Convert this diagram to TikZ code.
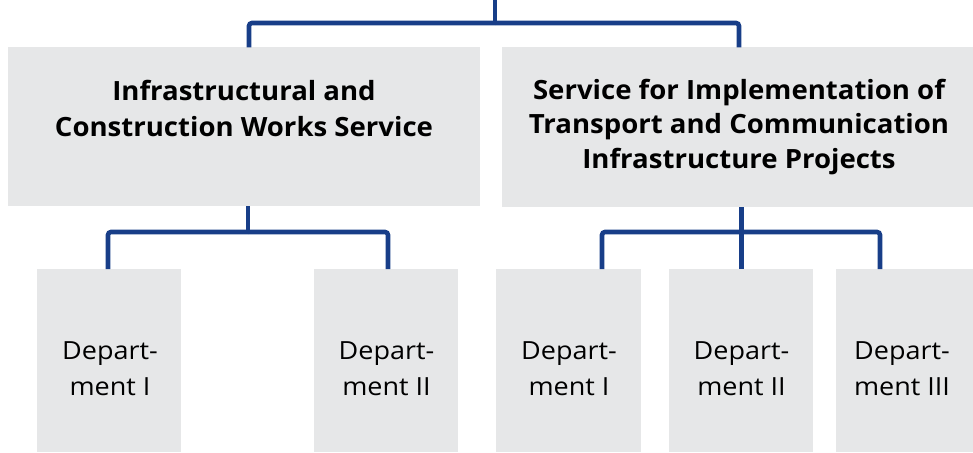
\documentclass[tikz,border=0pt]{standalone}
\usepackage{fontspec}
\setmainfont{Open Sans}
\newfontfamily\headfont[FakeStretch=1.04]{Open Sans}
\newfontfamily\deptfont[FakeStretch=1.08]{Open Sans}
\definecolor{boxgrey}{RGB}{230,231,232}
\definecolor{linkblue}{RGB}{24,62,136}
\begin{document}
\begin{tikzpicture}[x=1pt,y=-1pt,
  box/.style={fill=boxgrey, draw=none, inner sep=0pt, outer sep=0pt},
  link/.style={draw=linkblue, line width=4.6pt, rounded corners=3pt},
  head/.style={anchor=base, inner sep=0pt, font=\headfont\fontsize{26.5}{30}\selectfont\bfseries},
  dept/.style={anchor=base, inner sep=0pt, font=\deptfont\fontsize{25}{28}\selectfont}]
\useasboundingbox (0,0) rectangle (973,452);
% service boxes
\node[box, minimum width=472pt, minimum height=159pt] (s1) at (244,126.5) {};
\node[box, minimum width=471pt, minimum height=160pt] (s2) at (737.5,127) {};
% department boxes
\node[box, minimum width=144pt, minimum height=183pt] (d1) at (109,360.5) {};
\node[box, minimum width=144pt, minimum height=183pt] (d2) at (386,360.5) {};
\node[box, minimum width=145pt, minimum height=183pt] (d3) at (568.5,360.5) {};
\node[box, minimum width=144pt, minimum height=183pt] (d4) at (741,360.5) {};
\node[box, minimum width=144pt, minimum height=183pt] (d5) at (908,360.5) {};
% texts
\node[head] (s1a) at (244,100) {Infrastructural and};
\node[head] (s1b) at (244,136) {Construction Works Service};
\node[head] (s2a) at (739,99.5) {Service for Implementation of};
\node[head] (s2b) at (739,133.5) {Transport and Communication};
\node[head] (s2c) at (739,168) {Infrastructure Projects};
\node[dept] (d1a) at (110,359) {Depart-};
\node[dept] (d1b) at (110,395) {ment I};
\node[dept] (d2a) at (386.5,359) {Depart-};
\node[dept] (d2b) at (386.5,395) {ment II};
\node[dept] (d3a) at (569,359) {Depart-};
\node[dept] (d3b) at (569,395) {ment I};
\node[dept] (d4a) at (741.5,359) {Depart-};
\node[dept] (d4b) at (741.5,395) {ment II};
\node[dept] (d5a) at (902,359) {Depart-};
\node[dept] (d5b) at (902,395) {ment III};
% junction coordinates
\coordinate (top) at (495,0);
\coordinate (j0) at (495,23);
\coordinate (j1) at (248,232);
\coordinate (j2) at (741.5,232);
% connectors
\draw[link] (top) -- (j0);
\draw[link] (j0) -| (249,47.5);
\draw[link] (j0) -| (739,47.5);
\draw[link] (248,206) -- (j1);
\draw[link] (j1) -| (108,269);
\draw[link] (j1) -| (388,269);
\draw[link] (741.5,207) -- (j2);
\draw[link] (j2) -| (602,269);
\draw[link] (j2) -| (880,269);
\draw[link] (j2) -- (741.5,269);
\end{tikzpicture}
\end{document}
